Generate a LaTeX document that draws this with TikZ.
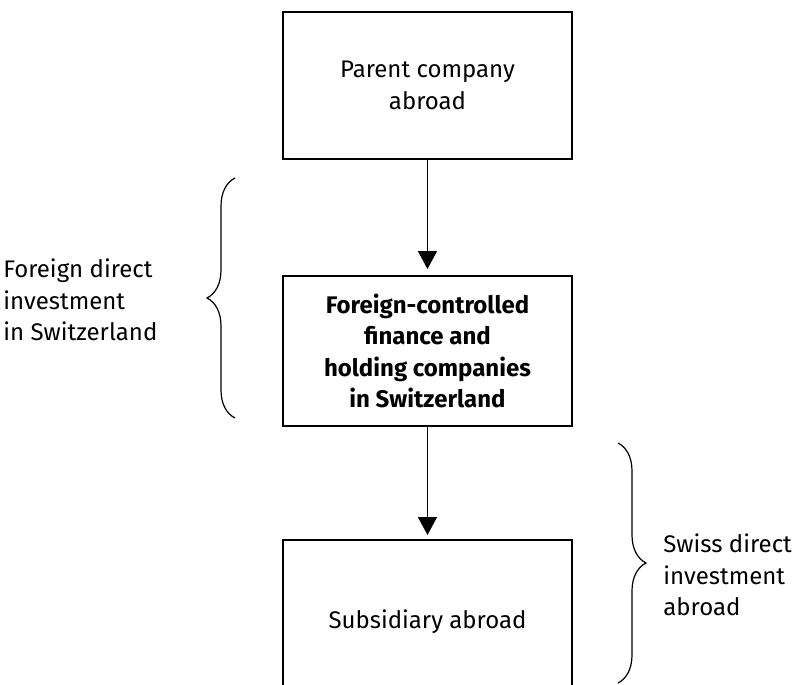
\documentclass[tikz,border=0pt]{standalone}
\usepackage{fontspec}
\setmainfont{Fira Sans}
\usetikzlibrary{arrows.meta,decorations.pathreplacing}
\tikzset{
  firm/.style={draw, line width=1pt, minimum width=144.5pt, align=center,
    font=\fontsize{12}{15.75}\selectfont},
  sidetext/.style={align=left, anchor=west, inner sep=0pt,
    font=\fontsize{12}{15.75}\selectfont},
  flow/.style={draw, line width=0.7pt, -{Triangle[width=9.5pt,length=9pt]}},
  span/.style={draw, line width=0.6pt, decorate, decoration={brace, amplitude=14pt}}
}
\begin{document}
\begin{tikzpicture}[x=0.5pt,y=-0.5pt]
        \useasboundingbox (0,0) rectangle (793,685);
        \clip (0,0) rectangle (793,685);

        \node[firm, minimum height=73.5pt] (parent) at (427.5,85.5) {Parent company\\abroad};
        \node[firm, minimum height=75pt, font=\fontsize{12}{15.75}\selectfont\bfseries] (fchc) at (427.5,351)
            {Foreign-controlled\\finance and\\holding companies\\in Switzerland};
        \node[firm, minimum height=82pt] (subsidiary) at (427.5,622) {Subsidiary abroad};

        \path[flow, shorten >=3pt] (parent) -- (fchc);
        \path[flow, shorten >=2pt] (fchc) -- (subsidiary);

        \coordinate (fdi-low) at (235,418);
        \coordinate (fdi-high) at (235,178);
        \coordinate (sdi-high) at (618,443);
        \coordinate (sdi-low) at (618,683);
        \path[span] (fdi-low) -- (fdi-high);
        \path[span] (sdi-high) -- (sdi-low);

        \node[sidetext] (fdi) at (3,300) {Foreign direct\\investment\\in Switzerland};
        \node[sidetext] (sdi) at (663,575) {Swiss direct\\investment\\abroad};
    \end{tikzpicture}
\end{document}
